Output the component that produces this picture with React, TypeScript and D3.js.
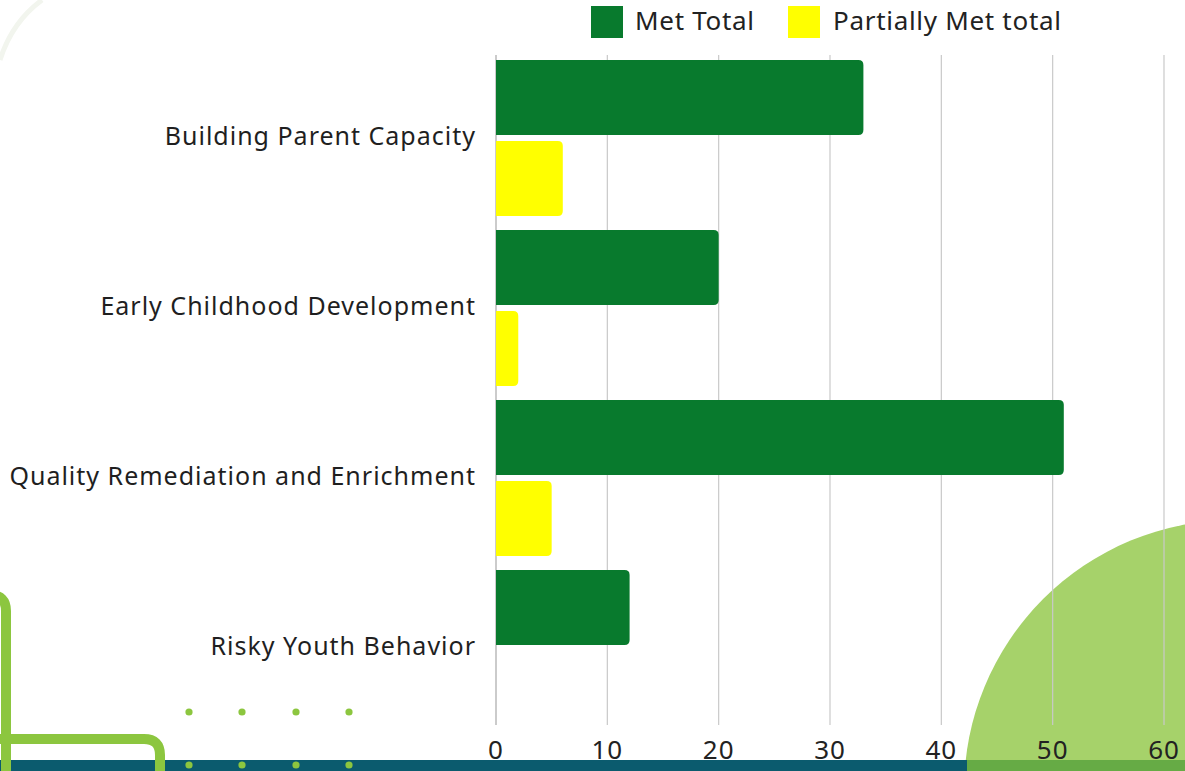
import React from "react";
import * as d3 from "d3";

const categories = [
  "Building Parent Capacity",
  "Early Childhood Development",
  "Quality Remediation and Enrichment",
  "Risky Youth Behavior",
];
const seriesNames = ["Met Total", "Partially Met total"];
const metTotal = [33, 20, 51, 12];
const partiallyMetTotal = [6, 2, 5, 0];
const xTicks = [0, 10, 20, 30, 40, 50, 60];
const seriesColors = ["#087a2d", "#ffff00"];

const W = 1185;
const H = 771;
const FONT = "'Noto Sans', 'Open Sans', sans-serif";

function barPath(x0: number, x1: number, y: number, h: number, r: number) {
  const w = x1 - x0;
  if (w <= 0) return "";
  const rr = Math.min(r, w, h / 2);
  return `M${x0},${y}H${x1 - rr}Q${x1},${y} ${x1},${y + rr}V${y + h - rr}Q${x1},${y + h} ${x1 - rr},${y + h}H${x0}Z`;
}

export default function App() {
  const x = d3.scaleLinear().domain([0, 60]).range([496, 1164]);
  const y = d3.scaleBand<string>().domain(categories).range([52, 732]).padding(0);
  const sub = d3
    .scaleBand<string>()
    .domain(seriesNames)
    .range([8, 164])
    .paddingInner(0.074)
    .paddingOuter(0);
  const values = [metTotal, partiallyMetTotal];
  const gridTop = 55;
  const gridBottom = 725;

  const cx = 1234, cy = 790, cr = 270;
  const dots = [189, 242, 296, 349];

  return (
    <svg
      width={W}
      height={H}
      style={{ position: "absolute", left: 0, top: 0, display: "block", background: "#fff" }}
      fontFamily={FONT}
    >
      <rect x={0} y={0} width={W} height={H} fill="#ffffff" />
      <path d="M0,60 Q12,22 42,0" fill="none" stroke="#f2f5ee" strokeWidth={5} />

      <circle cx={cx} cy={cy} r={cr} fill="#a6d26a" />

      {xTicks.map((t) => (
        <line
          key={"g" + t}
          x1={x(t)}
          x2={x(t)}
          y1={gridTop}
          y2={gridBottom}
          stroke={t === 0 ? "#a8a8a8" : "#c9c9c9"}
          strokeWidth={1.2}
        />
      ))}

      {categories.map((c, i) => (
        <g key={c}>
          {seriesNames.map((s, j) => (
            <path
              key={s}
              d={barPath(x(0), x(values[j][i]), (y(c) as number) + (sub(s) as number), sub.bandwidth(), 5)}
              fill={seriesColors[j]}
            />
          ))}
          <text
            x={476}
            y={(y(c) as number) + 83}
            textAnchor="end"
            dominantBaseline="central"
            fontSize={25}
            letterSpacing={1}
            fill="#1f1f1f"
          >
            {c}
          </text>
        </g>
      ))}

      {xTicks.map((t) => (
        <text
          key={"t" + t}
          x={x(t)}
          y={749}
          textAnchor="middle"
          dominantBaseline="central"
          fontSize={26}
          letterSpacing={1}
          fill="#222"
        >
          {t}
        </text>
      ))}

      <rect x={591} y={6} width={32} height={32} fill={seriesColors[0]} />
      <text x={635} y={20} dominantBaseline="central" fontSize={26} letterSpacing={0.7} fill="#222">
        {seriesNames[0]}
      </text>
      <rect x={788} y={6} width={32} height={32} fill={seriesColors[1]} />
      <text x={833} y={20} dominantBaseline="central" fontSize={26} letterSpacing={0.7} fill="#222">
        {seriesNames[1]}
      </text>

      <rect x={0} y={760} width={W} height={11} fill="#0b5b6e" />
      <rect x={967} y={760} width={W - 967} height={11} fill="#66ab45" />

      <path d="M-40,595 H-10 Q6,595 6,611 V771" fill="none" stroke="#8cc63f" strokeWidth={10} />
      <path d="M-10,739 H144 Q160,739 160,755 V790" fill="none" stroke="#8cc63f" strokeWidth={10} />

      {dots.map((dx) => (
        <g key={"d" + dx}>
          <circle cx={dx} cy={712} r={3.6} fill="#8cc63f" />
          <circle cx={dx} cy={765} r={3.6} fill="#8cc63f" />
        </g>
      ))}
    </svg>
  );
}
